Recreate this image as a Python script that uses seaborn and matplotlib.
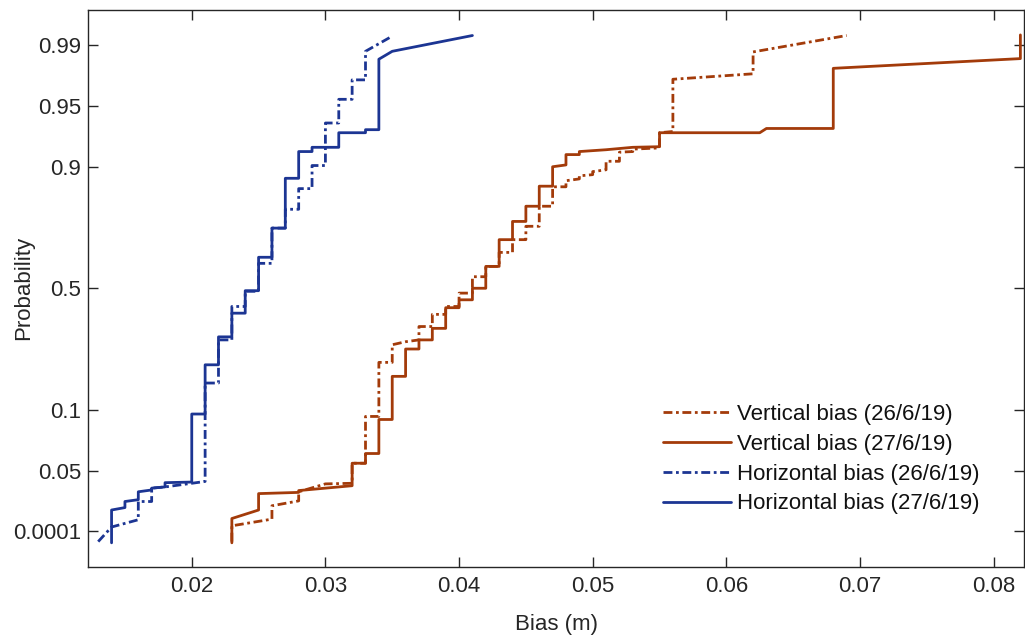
import matplotlib
matplotlib.use("Agg")
import matplotlib.pyplot as plt
import seaborn as sns

# ---------------- data (x: bias in m, z: probability-axis position) ----------------
v26_x = [0.023, 0.023, 0.026, 0.026, 0.028, 0.028, 0.030, 0.032, 0.032, 0.033, 0.033, 0.034,
         0.034, 0.035, 0.035, 0.036, 0.037, 0.037, 0.038, 0.038, 0.039, 0.039, 0.040, 0.040,
         0.041, 0.041, 0.042, 0.042, 0.043, 0.043, 0.044, 0.044, 0.045, 0.045, 0.046, 0.046,
         0.047, 0.047, 0.048, 0.048, 0.049, 0.049, 0.050, 0.050, 0.051, 0.051, 0.052, 0.052,
         0.053, 0.053, 0.055, 0.055, 0.056, 0.056, 0.062, 0.062, 0.069]
v26_z = [-4.17, -3.91, -3.80, -3.58, -3.50, -3.35, -3.22, -3.21, -2.88, -2.88, -2.11, -2.11,
         -1.22, -1.22, -0.93, -0.88, -0.85, -0.63, -0.63, -0.43, -0.43, -0.30, -0.30, -0.08,
         -0.08, 0.19, 0.19, 0.36, 0.36, 0.59, 0.59, 0.80, 0.80, 1.02, 1.02, 1.35,
         1.35, 1.67, 1.67, 1.77, 1.80, 1.85, 1.87, 1.92, 1.95, 2.09, 2.09, 2.24,
         2.25, 2.29, 2.31, 2.56, 2.58, 3.44, 3.53, 3.89, 4.16]

v27_x = [0.023, 0.023, 0.025, 0.025, 0.028, 0.028, 0.032, 0.032, 0.033, 0.033, 0.034, 0.034,
         0.035, 0.035, 0.036, 0.036, 0.037, 0.037, 0.038, 0.038, 0.039, 0.039, 0.040, 0.040,
         0.041, 0.041, 0.042, 0.042, 0.043, 0.043, 0.044, 0.044, 0.045, 0.045, 0.046, 0.046,
         0.047, 0.047, 0.048, 0.048, 0.049, 0.049, 0.051, 0.053, 0.055, 0.055, 0.0625, 0.063,
         0.068, 0.068, 0.082, 0.082]
v27_z = [-4.19, -3.79, -3.65, -3.38, -3.36, -3.33, -3.25, -2.88, -2.88, -2.72, -2.72, -2.16,
         -2.16, -1.45, -1.45, -1.00, -1.00, -0.85, -0.85, -0.66, -0.66, -0.32, -0.32, -0.19,
         -0.19, 0.00, 0.00, 0.36, 0.36, 0.80, 0.80, 1.10, 1.10, 1.35, 1.35, 1.68,
         1.68, 2.00, 2.03, 2.20, 2.20, 2.25, 2.28, 2.32, 2.33, 2.56, 2.56, 2.63,
         2.63, 3.62, 3.78, 4.17]

h26_x = [0.013, 0.014, 0.016, 0.016, 0.017, 0.017, 0.018, 0.019, 0.021, 0.021, 0.022, 0.022,
         0.023, 0.023, 0.024, 0.024, 0.025, 0.025, 0.026, 0.026, 0.027, 0.027, 0.028, 0.028,
         0.029, 0.029, 0.030, 0.030, 0.031, 0.031, 0.032, 0.032, 0.033, 0.033, 0.035]
h26_z = [-4.17, -3.93, -3.81, -3.51, -3.51, -3.29, -3.27, -3.24, -3.18, -1.56, -1.56, -0.85,
         -0.85, -0.30, -0.30, -0.05, -0.05, 0.41, 0.41, 0.99, 0.99, 1.30, 1.30, 1.64,
         1.64, 2.02, 2.02, 2.72, 2.72, 3.11, 3.11, 3.43, 3.43, 3.90, 4.15]

h27_x = [0.014, 0.014, 0.015, 0.015, 0.016, 0.016, 0.017, 0.017, 0.018, 0.018, 0.020, 0.020,
         0.021, 0.021, 0.022, 0.022, 0.023, 0.023, 0.024, 0.024, 0.025, 0.025, 0.026, 0.026,
         0.027, 0.027, 0.028, 0.028, 0.029, 0.029, 0.031, 0.031, 0.033, 0.033, 0.034, 0.034,
         0.035, 0.041]
h27_z = [-4.19, -3.65, -3.61, -3.51, -3.48, -3.35, -3.32, -3.29, -3.27, -3.20, -3.19, -2.07,
         -2.07, -1.26, -1.26, -0.80, -0.80, -0.41, -0.41, -0.04, -0.04, 0.51, 0.51, 0.99,
         0.99, 1.81, 1.81, 2.25, 2.25, 2.32, 2.32, 2.56, 2.56, 2.61, 2.61, 3.77,
         3.90, 4.16]

series_labels = ["Vertical bias (26/6/19)", "Vertical bias (27/6/19)",
                 "Horizontal bias (26/6/19)", "Horizontal bias (27/6/19)"]

prob_tick_pos = [-4, -3, -2, 0, 2, 3, 4]
prob_tick_labels = ["0.0001", "0.05", "0.1", "0.5", "0.9", "0.95", "0.99"]
x_tick_vals = [0.02, 0.03, 0.04, 0.05, 0.06, 0.07, 0.08]
x_tick_labels = ["0.02", "0.03", "0.04", "0.05", "0.06", "0.07", "0.08"]

# ---------------- styling ----------------
sns.set_theme(style="ticks")
plt.rcParams['font.family'] = ['Liberation Sans', 'DejaVu Sans']

RED = "#a33b0a"
BLUE = "#1c3593"
DASHDOT = (0, (3.2, 1.3, 1.0, 1.3))
AX_COL = "#262626"

fig = plt.figure(figsize=(10.25, 6.41), dpi=100)
ax = fig.add_axes([0.0859, 0.1162, 0.9135, 0.8682])

data = [(v26_x, v26_z, RED, DASHDOT), (v27_x, v27_z, RED, "-"),
        (h26_x, h26_z, BLUE, DASHDOT), (h27_x, h27_z, BLUE, "-")]
for (xs, zs, col, ls), lab in zip(data, series_labels):
    sns.lineplot(x=xs, y=zs, sort=False, estimator=None, color=col,
                 linestyle=ls, linewidth=2.0, label=lab, ax=ax)

ax.set_xlim(0.01224, 0.0823)
ax.set_ylim(-4.58, 4.58)
ax.set_xticks(x_tick_vals)
ax.set_xticklabels(x_tick_labels)
ax.set_yticks(prob_tick_pos)
ax.set_yticklabels(prob_tick_labels)

ax.tick_params(axis="both", which="both", direction="in", length=7, width=1.0,
               colors=AX_COL, labelsize=16, top=True, right=True)
ax.tick_params(axis="x", pad=7)
ax.tick_params(axis="y", pad=5)
for sp in ax.spines.values():
    sp.set_visible(True)
    sp.set_color(AX_COL)
    sp.set_linewidth(1.0)

ax.set_xlabel("Bias (m)", fontsize=16, color=AX_COL, labelpad=12)
ax.set_ylabel("Probability", fontsize=16, color=AX_COL)
ax.yaxis.set_label_coords(-0.058, 0.5)

leg = ax.legend(loc="upper left", bbox_to_anchor=(0.6468, 0.370),
                bbox_transform=fig.transFigure, frameon=False, fontsize=16,
                handlelength=3.05, handletextpad=0.3, labelspacing=0.4,
                borderpad=0, borderaxespad=0)
for t in leg.get_texts():
    t.set_color("#111111")

fig.savefig("out.png", dpi=100)
